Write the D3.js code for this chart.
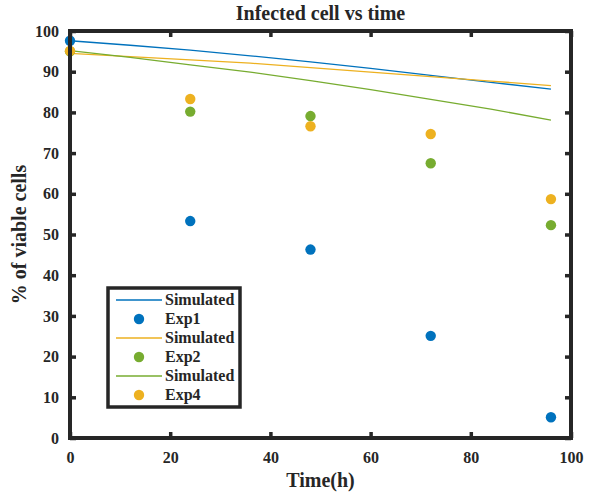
<!DOCTYPE html>
<html>
<head>
<meta charset="utf-8">
<script src="https://cdn.jsdelivr.net/npm/d3@7"></script>
<style>
  body { margin: 0; background: #fff; }
  text { font-family: "Liberation Serif", "Times New Roman", serif; font-weight: bold; fill: #262626; }
</style>
</head>
<body>
<div id="chart"></div>
<script>
// experimental time points (h)
const expTimes = [0, 24, 48, 72, 96];
const exp1 = [97.6, 53.3, 46.3, 25.1, 5.1];
const exp2 = [95.0, 80.2, 79.1, 67.5, 52.3];
const exp4 = [95.1, 83.3, 76.6, 74.7, 58.7];

// simulated curves
const simTimes = [0, 12, 24, 36, 48, 60, 72, 84, 96];
const simBlue = [97.6, 96.5, 95.3, 93.9, 92.4, 90.8, 89.1, 87.4, 85.7];
const simOrange = [94.5, 93.7, 92.9, 92.1, 91.0, 89.9, 88.8, 87.7, 86.6];
const simGreen = [95.2, 93.5, 91.7, 89.9, 87.8, 85.6, 83.2, 80.8, 78.1];

const xTicks = [0, 20, 40, 60, 80, 100];
const yTicks = [0, 10, 20, 30, 40, 50, 60, 70, 80, 90, 100];

const blue = "#0072BD", orange = "#EDB120", green = "#77AC30";
const serif = '"Liberation Serif", "Times New Roman", serif';

const W = 601, H = 497;
const margin = { left: 70, right: 30, top: 31, bottom: 59 };
const width = W - margin.left - margin.right;
const height = H - margin.top - margin.bottom;

const svg = d3.select("#chart").append("svg")
    .attr("width", W)
    .attr("height", H);

const g = svg.append("g")
    .attr("transform", `translate(${margin.left}, ${margin.top})`);

const xScale = d3.scaleLinear().domain([0, 100]).range([0, width]);
const yScale = d3.scaleLinear().domain([0, 100]).range([height, 0]);

const lineMapper = d3.line()
    .x(d => xScale(d[0]))
    .y(d => yScale(d[1]));

// simulated lines
const lines = [
    { vals: simBlue, color: blue },
    { vals: simOrange, color: orange },
    { vals: simGreen, color: green }
];
lines.forEach(l => {
    g.append("path")
        .datum(simTimes.map((t, i) => [t, l.vals[i]]))
        .attr("fill", "none")
        .attr("stroke", l.color)
        .attr("stroke-width", 1.3)
        .attr("d", lineMapper);
});

// experimental points
const points = [
    { vals: exp1, color: blue },
    { vals: exp2, color: green },
    { vals: exp4, color: orange }
];
points.forEach(p => {
    g.selectAll(null)
        .data(expTimes.map((t, i) => [t, p.vals[i]]))
        .enter().append("circle")
        .attr("cx", d => xScale(d[0]))
        .attr("cy", d => yScale(d[1]))
        .attr("r", 5.2)
        .attr("fill", p.color);
});

// axes (box with inward ticks)
function styleAxis(sel) {
    sel.attr("font-family", null);
    sel.select(".domain").remove();
    sel.selectAll(".tick line").attr("stroke", "#262626").attr("stroke-width", 3.5);
    sel.selectAll(".tick text")
        .style("font-family", serif)
        .style("font-weight", "bold")
        .style("font-size", "16px")
        .attr("fill", "#262626");
}

const xAxis = g.append("g").attr("transform", `translate(0, ${height})`)
    .call(d3.axisBottom(xScale).tickValues(xTicks).tickSize(-6).tickPadding(14));
styleAxis(xAxis);
xAxis.selectAll(".tick text").attr("dy", "0.71em");

const xTop = g.append("g")
    .call(d3.axisTop(xScale).tickValues(xTicks).tickSize(-6).tickFormat(""));
styleAxis(xTop);

const yAxis = g.append("g")
    .call(d3.axisLeft(yScale).tickValues(yTicks).tickSize(-6).tickPadding(11));
styleAxis(yAxis);

const yRight = g.append("g").attr("transform", `translate(${width}, 0)`)
    .call(d3.axisRight(yScale).tickValues(yTicks).tickSize(-6).tickFormat(""));
styleAxis(yRight);

g.append("rect")
    .attr("x", 0).attr("y", 0)
    .attr("width", width).attr("height", height)
    .attr("fill", "none")
    .attr("stroke", "#262626")
    .attr("stroke-width", 4);

// title and axis labels
svg.append("text")
    .attr("x", margin.left + width / 2)
    .attr("y", 20)
    .attr("text-anchor", "middle")
    .attr("font-size", 20)
    .text("Infected cell vs time");

svg.append("text")
    .attr("x", margin.left + width / 2)
    .attr("y", 487)
    .attr("text-anchor", "middle")
    .attr("font-size", 20)
    .text("Time(h)");

svg.append("text")
    .attr("transform", `translate(26, ${margin.top + height / 2}) rotate(-90)`)
    .attr("text-anchor", "middle")
    .attr("font-size", 20)
    .text("% of viable cells");

// legend
const legendItems = [
    { type: "line", color: blue, label: "Simulated" },
    { type: "dot", color: blue, label: "Exp1" },
    { type: "line", color: orange, label: "Simulated" },
    { type: "dot", color: green, label: "Exp2" },
    { type: "line", color: green, label: "Simulated" },
    { type: "dot", color: orange, label: "Exp4" }
];

const legend = svg.append("g").attr("transform", "translate(108, 288)");
legend.append("rect")
    .attr("width", 132).attr("height", 119)
    .attr("fill", "#fff")
    .attr("stroke", "#262626")
    .attr("stroke-width", 3.5);

legendItems.forEach((d, i) => {
    const y = 12 + i * 19;
    if (d.type === "line") {
        legend.append("line")
            .attr("x1", 8).attr("x2", 54)
            .attr("y1", y).attr("y2", y)
            .attr("stroke", d.color)
            .attr("stroke-width", 1.3);
    } else {
        legend.append("circle")
            .attr("cx", 31).attr("cy", y)
            .attr("r", 5.2)
            .attr("fill", d.color);
    }
    legend.append("text")
        .attr("x", 57).attr("y", y + 5)
        .attr("font-size", 16)
        .text(d.label);
});
</script>
</body>
</html>
